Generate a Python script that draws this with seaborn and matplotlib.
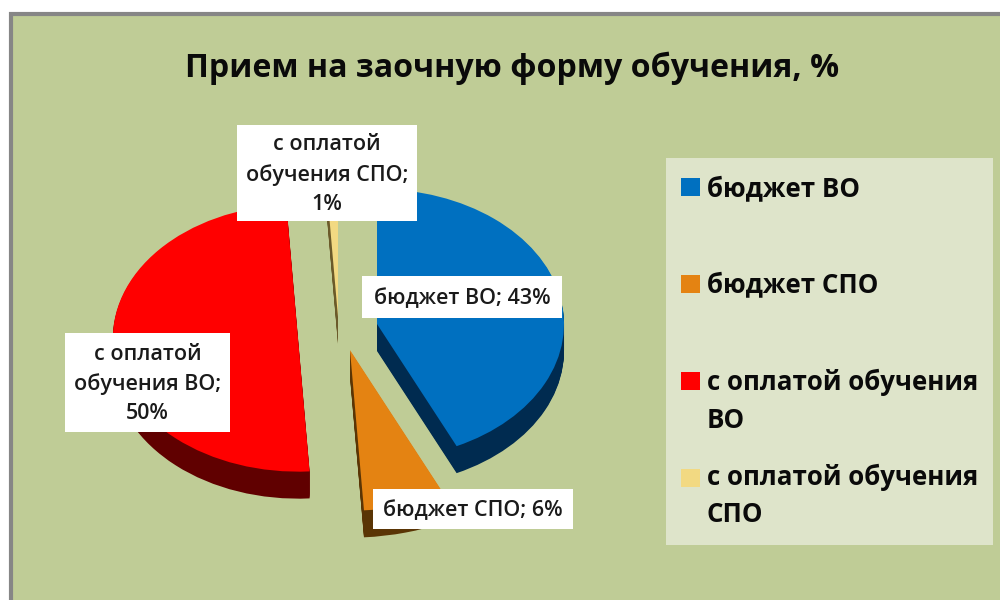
import matplotlib
matplotlib.use("Agg")
import matplotlib.pyplot as plt
from matplotlib.patches import Rectangle
import seaborn as sns

categories = ["бюджет ВО", "бюджет СПО", "с оплатой обучения ВО", "с оплатой обучения СПО"]
values = [43, 6, 50, 1]
title = "Прием на заочную форму обучения, %"
legend_lines = [["бюджет ВО"], ["бюджет СПО"], ["с оплатой обучения", "ВО"], ["с оплатой обучения", "СПО"]]
label_texts = ["бюджет ВО; 43%", "бюджет СПО; 6%", "с оплатой\nобучения ВО;\n50%", "с оплатой\nобучения СПО;\n1%"]

face_colors = ["#0070C0", "#E48312", "#FF0000", "#F2D982"]
side_colors = ["#002B50", "#5A3505", "#600000", "#6B5A2A"]

sns.set_theme(style="white")
FONT = "Open Sans"
plt.rcParams["font.family"] = [FONT, "DejaVu Sans"]

fig = plt.figure(figsize=(10, 6), dpi=100, facecolor="white")

# Pixel-coordinate backdrop and annotation layers
bg = fig.add_axes([0, 0, 1, 1], zorder=0)
bg.set_xlim(0, 1000); bg.set_ylim(600, 0); bg.axis("off")
bg.add_patch(Rectangle((11, 14), 995, 600, fc="#BFCC96", ec="#868686", lw=3))

# Pie axes: one data unit = 187 px horizontally, 135 px vertically
CX, CY, RX, RY = 340, 320, 187, 135
ax = fig.add_axes([(CX - 2 * RX) / 1000, 1 - (CY + 2 * RY) / 600, 4 * RX / 1000, 4 * RY / 600], zorder=1)
apex_px = [(377, 324), (350, 350), (298, 338), (338, 317)]
radius = [1.0, 1.19, 0.99, 1.0]
DEPTH = 27

def draw_pie(colors, shift):
    wedges, _ = ax.pie(values, colors=sns.color_palette(colors), startangle=90, counterclock=False,
                       wedgeprops=dict(linewidth=0, antialiased=True))
    for w, (px, py), r in zip(wedges, apex_px, radius):
        w.set_center(((px - CX) / RX, -(py + shift - CY) / RY))
        w.set_radius(r)
    return wedges

for d in range(DEPTH, 0, -1):
    draw_pie(side_colors, d)
draw_pie(face_colors, 0)
ax.set_aspect("auto")
ax.set_xlim(-2, 2); ax.set_ylim(-2, 2)
ax.axis("off")
ax.patch.set_alpha(0)

top = fig.add_axes([0, 0, 1, 1], zorder=2)
top.set_xlim(0, 1000); top.set_ylim(600, 0); top.axis("off"); top.patch.set_alpha(0)

top.text(512, 68, title, ha="center", va="center", fontsize=23.1, fontweight="bold", color="#0a0a0a")

# Data labels
boxes = [(362, 276, 200, 42), (373, 489, 200, 40), (65, 333, 165, 99), (237, 125, 180, 96)]
for text, (x, y, w, h) in zip(label_texts, boxes):
    top.add_patch(Rectangle((x, y), w, h, fc="white", ec="none"))
    top.text(x + w / 2, y + h / 2 + 1.5, text, ha="center", va="center", fontsize=15.5, fontweight="semibold",
             color="#1a1a1a", linespacing=1.5, multialignment="center")

# Legend
top.add_patch(Rectangle((666, 158), 327, 387, fc="#DEE4CA", ec="none"))
swatch_y = [178, 275, 372, 469]
line_y = [[189], [285], [382, 420], [477, 515]]
for color, sy, lines, ys in zip(face_colors, swatch_y, legend_lines, line_y):
    top.add_patch(Rectangle((681, sy), 19, 18, fc=color, ec="none"))
    for s, ly in zip(lines, ys):
        top.text(707, ly, s, ha="left", va="center", fontsize=18.6, fontweight="bold", color="#0a0a0a")

fig.savefig("out.png", dpi=100)
